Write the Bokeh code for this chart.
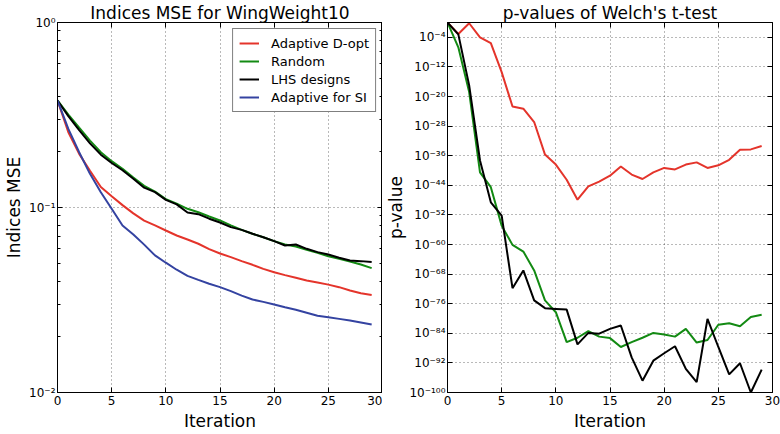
from bokeh.plotting import figure
from bokeh.layouts import row
from bokeh.models import Range1d, FixedTicker, LogAxis, LinearAxis, Legend, LegendItem
from bokeh.embed import file_html
from bokeh.resources import INLINE

FONT = "DejaVu Sans"

iterations = list(range(30))

# Left panel: Indices MSE
mse_dopt = [0.379, 0.255, 0.195, 0.158, 0.129, 0.115, 0.103, 0.093, 0.085, 0.080,
            0.0751, 0.0706, 0.0671, 0.0637, 0.0596, 0.0564, 0.0539, 0.0513, 0.0490, 0.0466,
            0.0447, 0.0431, 0.0417, 0.0403, 0.0393, 0.0383, 0.0371, 0.0356, 0.0344, 0.0337]
mse_random = [0.379, 0.318, 0.270, 0.230, 0.199, 0.178, 0.162, 0.145, 0.131, 0.122,
              0.111, 0.105, 0.0984, 0.0943, 0.0894, 0.0851, 0.080, 0.0757, 0.0721, 0.0691,
              0.0658, 0.0631, 0.0615, 0.0591, 0.0569, 0.0545, 0.0528, 0.0511, 0.0492, 0.0470]
mse_lhs = [0.379, 0.312, 0.262, 0.222, 0.193, 0.174, 0.159, 0.143, 0.128, 0.121,
           0.110, 0.104, 0.094, 0.092, 0.087, 0.083, 0.0783, 0.0757, 0.0721, 0.0691,
           0.0658, 0.0623, 0.0631, 0.0598, 0.0574, 0.0557, 0.0535, 0.0517, 0.0513, 0.0507]
mse_si = [0.379, 0.266, 0.199, 0.152, 0.121, 0.0984, 0.080, 0.0715, 0.063, 0.0551,
          0.0503, 0.0461, 0.0427, 0.0406, 0.0387, 0.0371, 0.0353, 0.0334, 0.0318, 0.0309,
          0.0299, 0.0289, 0.0280, 0.0270, 0.0260, 0.0255, 0.0250, 0.0245, 0.0239, 0.0233]

# Right panel: p-values (log10 exponents)
pval_dopt_log10 = [0.0, -3.1, -0.2, -4.0, -5.6, -13.4, -22.7, -23.3, -26.9, -35.7,
                   -38.4, -42.5, -47.9, -44.3, -43.0, -41.4, -38.9, -41.1, -42.3, -40.5,
                   -39.3, -39.7, -38.4, -37.8, -39.3, -38.6, -37.1, -34.4, -34.3, -33.4]
pval_random_log10 = [0.0, -6.7, -18.8, -40.5, -44.5, -54.9, -60.1, -61.9, -67.0, -75.1,
                     -78.3, -86.4, -85.2, -83.4, -84.9, -85.3, -87.7, -86.4, -85.2, -83.9,
                     -84.3, -84.9, -82.8, -86.5, -85.8, -81.7, -81.3, -82.1, -79.6, -79.0]
pval_lhs_log10 = [0.0, -3.2, -17.0, -37.3, -48.6, -52.2, -71.8, -67.0, -75.1, -77.2,
                  -77.4, -77.6, -87.0, -83.9, -84.1, -82.8, -81.9, -90.5, -96.8, -91.4,
                  -89.4, -87.5, -93.6, -97.2, -80.1, -87.7, -95.1, -92.1, -100.0, -93.8]

series_names = ["Adaptive D-opt", "Random", "LHS designs", "Adaptive for SI"]
series_colors = ["#e4342b", "#138a13", "#000000", "#3443a1"]

x_ticks = [0, 5, 10, 15, 20, 25, 30]
mse_ticks = [0.01, 0.1, 1.0]
mse_tick_labels = ["10\u207b\u00b2", "10\u207b\u00b9", "10\u2070"]
mse_minor = [k * 10.0 ** d for d in (-2, -1) for k in range(2, 10)]
pval_exponents = [-100, -92, -84, -76, -68, -60, -52, -44, -36, -28, -20, -12, -4]
SUP = {"-": "\u207b", "0": "\u2070", "1": "\u00b9", "2": "\u00b2", "3": "\u00b3",
       "4": "\u2074", "5": "\u2075", "6": "\u2076", "7": "\u2077", "8": "\u2078", "9": "\u2079"}
pval_ticks = [10.0 ** e for e in pval_exponents]
pval_tick_labels = ["10" + "".join(SUP[c] for c in str(e)) for e in pval_exponents]


def style_axis(ax, show_labels=True, label_standoff=3, title_standoff=3):
    ax.axis_line_color = "black"
    ax.axis_line_width = 1
    ax.major_tick_in = 5
    ax.major_tick_out = 0
    ax.minor_tick_in = 3
    ax.minor_tick_out = 0
    ax.major_tick_line_color = "black"
    ax.minor_tick_line_color = "black"
    ax.major_label_text_font = FONT
    ax.major_label_text_color = "black"
    ax.axis_label_text_font = FONT
    ax.axis_label_text_font_size = "17px"
    ax.axis_label_text_font_style = "normal"
    ax.axis_label_text_color = "black"
    if show_labels:
        ax.major_label_text_font_size = "12px"
        ax.major_label_standoff = label_standoff
        ax.axis_label_standoff = title_standoff
    else:
        ax.major_label_text_font_size = "0px"
        ax.major_label_text_color = None
        ax.major_label_standoff = 0


def make_fig(width, y_range, min_left, min_right, title):
    p = figure(width=width, height=434, x_range=Range1d(0, 30), y_range=y_range,
               y_axis_type="log", output_backend="svg", toolbar_location=None,
               min_border_left=min_left, min_border_right=min_right,
               min_border_top=22, min_border_bottom=42)
    p.title.text = title
    p.title.align = "center"
    p.title.text_font = FONT
    p.title.text_font_size = "17px"
    p.title.text_font_style = "normal"
    p.title.text_color = "black"
    p.title.standoff = 0
    p.outline_line_color = "black"
    p.outline_line_alpha = 1
    p.background_fill_color = "white"
    p.border_fill_color = "white"
    p.xaxis.ticker = FixedTicker(ticks=x_ticks)
    p.xaxis.axis_label = "Iteration"
    p.grid.grid_line_color = "black"
    p.grid.grid_line_alpha = 0.55
    p.grid.grid_line_dash = "1 3"
    p.grid.grid_line_width = 1
    return p


# ---------- Left figure ----------
p1 = make_fig(382, Range1d(0.01, 1.0), 57, 0, "Indices MSE for WingWeight10")
p1.yaxis.ticker = FixedTicker(ticks=mse_ticks, minor_ticks=mse_minor)
p1.yaxis.major_label_overrides = dict(zip(mse_ticks, mse_tick_labels))
p1.yaxis.axis_label = "Indices MSE"
for ax in p1.xaxis:
    style_axis(ax, True, 3, 3)
    ax.minor_tick_in = 0
for ax in p1.yaxis:
    style_axis(ax, True, 2, 2)
top1 = LinearAxis(ticker=FixedTicker(ticks=x_ticks))
right1 = LogAxis(ticker=FixedTicker(ticks=mse_ticks, minor_ticks=mse_minor))
style_axis(top1, False)
style_axis(right1, False)
top1.minor_tick_in = 0
p1.add_layout(top1, "above")
p1.add_layout(right1, "right")

mse_series = [mse_dopt, mse_random, mse_lhs, mse_si]
items = []
for name, color, vals in zip(series_names, series_colors, mse_series):
    r = p1.line(iterations, vals, line_color=color, line_width=2)
    items.append(LegendItem(label=name, renderers=[r]))
legend = Legend(items=items, location="top_right")
legend.label_text_font = FONT
legend.label_text_font_size = "13px"
legend.label_text_color = "black"
legend.border_line_color = "black"
legend.border_line_width = 1
legend.background_fill_color = "white"
legend.background_fill_alpha = 1
legend.glyph_width = 20
legend.glyph_height = 16
legend.label_height = 16
legend.spacing = 2
legend.padding = 6
legend.label_standoff = 12
legend.margin = 6
p1.add_layout(legend)

# ---------- Right figure ----------
p2 = make_fig(398, Range1d(1e-100, 1.0), 65, 8, "p-values of Welch's t-test")
p2.yaxis.ticker = FixedTicker(ticks=pval_ticks, minor_ticks=[])
p2.yaxis.major_label_overrides = dict(zip(pval_ticks, pval_tick_labels))
p2.yaxis.axis_label = "p-value"
for ax in p2.xaxis:
    style_axis(ax, True, 3, 3)
    ax.minor_tick_in = 0
for ax in p2.yaxis:
    style_axis(ax, True, 2, 0)
top2 = LinearAxis(ticker=FixedTicker(ticks=x_ticks))
right2 = LogAxis(ticker=FixedTicker(ticks=pval_ticks, minor_ticks=[]))
style_axis(top2, False)
style_axis(right2, False)
top2.minor_tick_in = 0
p2.add_layout(top2, "above")
p2.add_layout(right2, "right")

pval_series = [pval_dopt_log10, pval_random_log10, pval_lhs_log10]
for color, exps in zip(series_colors[:3], pval_series):
    p2.line(iterations, [10.0 ** e for e in exps], line_color=color, line_width=2)

layout = row(p1, p2)
open("out.html", "w").write(file_html(layout, INLINE))
